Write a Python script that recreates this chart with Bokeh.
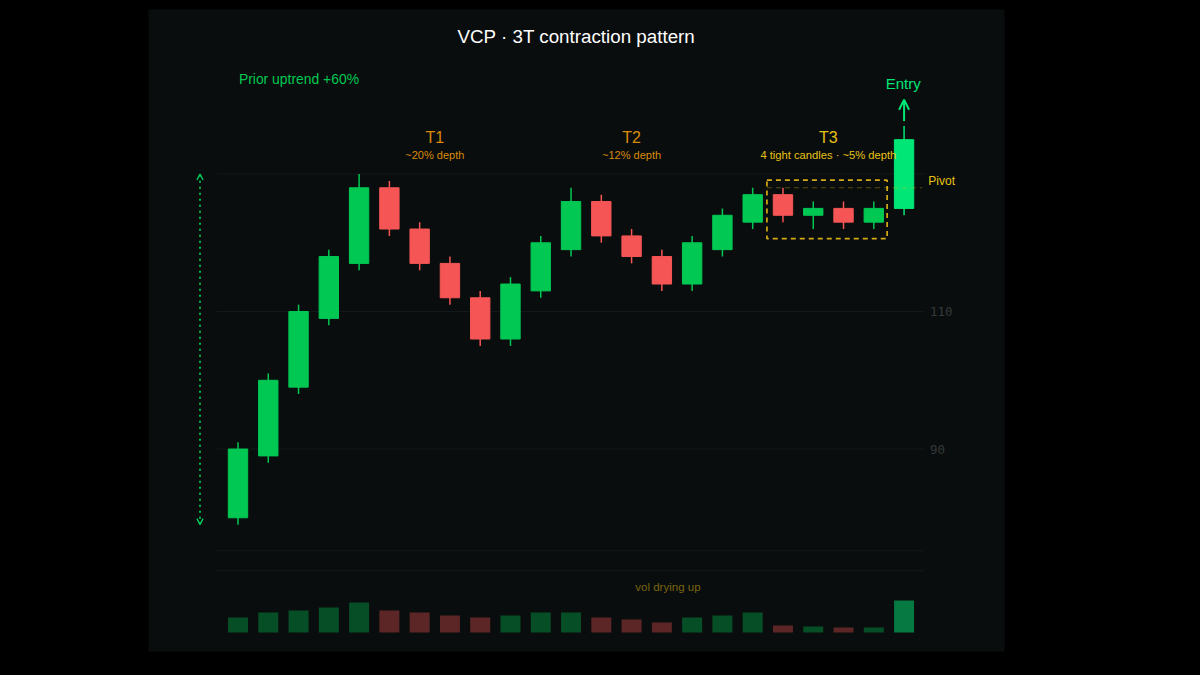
from bokeh.embed import file_html
from bokeh.models import Range1d, ColumnDataSource, LinearAxis, FixedTicker, Label, Arrow, OpenHead
from bokeh.plotting import figure
from bokeh.resources import INLINE

# candles
opens  = [80, 89, 99, 109, 117, 128, 122, 117, 112, 106, 113, 119, 126, 121, 118, 114, 119, 123, 127, 124, 125, 123, 125]
closes = [90, 100, 110, 118, 128, 122, 117, 112, 106, 114, 120, 126, 121, 118, 114, 120, 124, 127, 124, 125, 123, 125, 135]
highs  = [91, 101, 111, 119, 130, 129, 123, 118, 113, 115, 121, 128, 127, 122, 119, 121, 125, 128, 128, 126, 126, 126, 137]
lows   = [79, 88, 98, 108, 116, 121, 116, 111, 105, 105, 112, 118, 120, 117, 113, 113, 118, 122, 123, 122, 122, 122, 124]
volume = [1.5, 2.0, 2.2, 2.5, 3.0, 2.2, 2.0, 1.7, 1.5, 1.7, 2.0, 2.0, 1.5, 1.3, 1.0, 1.5, 1.7, 2.0, 0.7, 0.6, 0.5, 0.5, 3.2]

price_ticks = [90, 110]
grid_levels = [72.3, 75.2, 90, 110, 130]

UP = "#00c853"
DOWN = "#f55555"
ENTRY = "#00e676"
GOLD = "#e6c214"
ORANGE = "#d98a0b"
PANEL = "#0a0d0d"
GRID = "#141919"
SANS = "Liberation Sans"

idx = list(range(len(opens)))
last = idx[-1]


def candle_color(i):
    if i == last:
        return ENTRY
    return UP if closes[i] >= opens[i] else DOWN


source = ColumnDataSource(dict(
    x=idx,
    high=highs,
    low=lows,
    top=[max(o, c) for o, c in zip(opens, closes)],
    bottom=[min(o, c) for o, c in zip(opens, closes)],
    vol=volume,
    color=[candle_color(i) for i in idx],
    vol_alpha=[0.5 if i == last else 0.35 for i in idx],
))

p = figure(
    width=1184, height=659, output_backend="svg", toolbar_location=None,
    x_range=Range1d(-2.956, 25.317), y_range=Range1d(60.55, 153.93),
    min_border_left=148, min_border_right=180, min_border_top=9, min_border_bottom=8,
    background_fill_color=PANEL, border_fill_color="#000000",
    outline_line_color=None,
)
p.extra_y_ranges["vol"] = Range1d(-1.9, 62.3)
p.xaxis.visible = False
p.yaxis.visible = False
p.xgrid.visible = False
p.ygrid.visible = False

# horizontal rules
p.segment(x0=[-0.69] * len(grid_levels), x1=[22.66] * len(grid_levels),
          y0=grid_levels, y1=grid_levels, line_color=GRID, line_width=1)

price_axis = LinearAxis(
    fixed_location=22.46,
    ticker=FixedTicker(ticks=price_ticks),
    axis_line_color=None, major_tick_line_color=None, minor_tick_line_color=None,
    major_label_text_color="#333a3a", major_label_text_font="DejaVu Sans Mono",
    major_label_text_font_size="12.5px", major_label_standoff=6,
)
p.add_layout(price_axis, "right")

# candles
p.segment("x", "low", "x", "high", source=source, line_color="color", line_width=1.5)
p.vbar("x", 0.64, "top", "bottom", source=source, fill_color="color", line_color="color",
       line_width=1)

# volume
p.vbar("x", 0.66, "vol", 0, source=source, y_range_name="vol", fill_color="color",
       line_color=None, fill_alpha="vol_alpha")

# T3 box and pivot line
box = p.quad(left=[17.47], right=[21.44], top=[129.1], bottom=[120.6], fill_color=None,
             line_color="#d4ab14", line_width=1.7)
box.glyph.line_dash = [5, 4]
pivot = p.segment(x0=[17.47], x1=[22.6], y0=[128], y1=[128], line_color=GOLD, line_alpha=0.35,
                  line_width=1)
pivot.glyph.line_dash = [5, 4]

# prior uptrend range
p.add_layout(Arrow(
    start=OpenHead(size=6, line_color=UP, line_width=1.5),
    end=OpenHead(size=6, line_color=UP, line_width=1.5),
    x_start=-1.255, y_start=79, x_end=-1.255, y_end=130,
    line_color=UP, line_width=1.8, line_dash=[2, 4],
))

# entry arrow
p.add_layout(Arrow(
    end=OpenHead(size=10, line_color=ENTRY, line_width=2),
    x_start=22, y_start=137.7, x_end=22, y_end=140.8,
    line_color=ENTRY, line_width=2,
))


def text(x, y, s, color, size, align="center", **kw):
    p.add_layout(Label(x=x, y=y, text=s, text_color=color, text_font=SANS,
                       text_font_size=size, text_align=align, text_baseline="middle", **kw))


text(11.18, 150, "VCP \u00b7 3T contraction pattern", "#ffffff", "18.8px")
text(0.03, 143.75, "Prior uptrend +60%", UP, "13.9px", "left")
text(6.5, 135.35, "T1", ORANGE, "16px")
text(6.5, 132.8, "~20% depth", ORANGE, "11px")
text(13, 135.35, "T2", ORANGE, "16px")
text(13, 132.8, "~12% depth", ORANGE, "11px")
text(19.5, 135.35, "T3", GOLD, "16px")
text(19.5, 132.8, "4 tight candles \u00b7 ~5% depth", GOLD, "11.2px")
text(21.97, 143.1, "Entry", ENTRY, "15px")
text(22.8, 129, "Pivot", GOLD, "12px", "left")
text(14.2, 4.6, "vol drying up", "#7a6510", "11.5px", y_range_name="vol")

html = file_html(p, INLINE)
html = html.replace("</head>", "<style>html,body{background:#000}</style></head>", 1)
open("out.html", "w").write(html)
